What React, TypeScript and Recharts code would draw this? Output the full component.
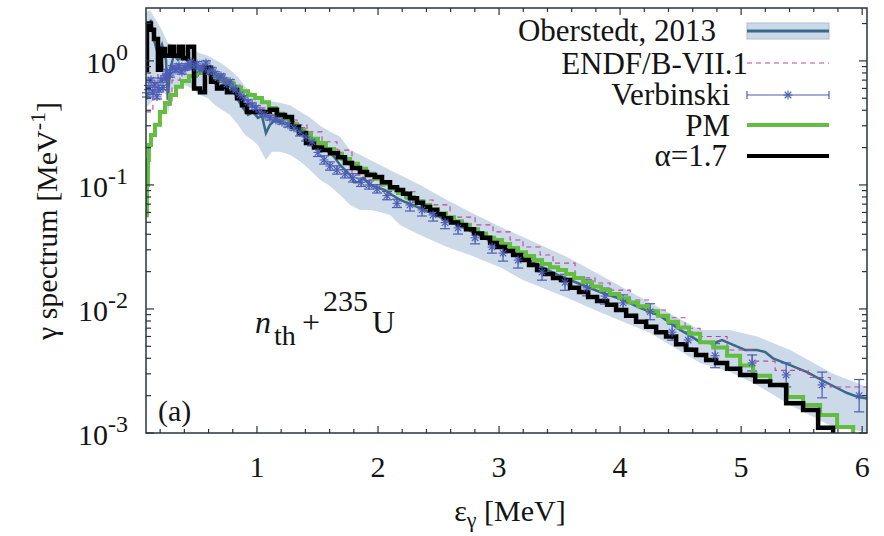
import React from 'react';
import { ComposedChart, Line, Area, Scatter, ErrorBar, XAxis, YAxis } from 'recharts';

const FONT = '"Liberation Serif", "Times New Roman", Times, serif';
const TEXT = '#141414';
const AXIS = '#26343f';
const BAND_C = '#cbd9e8';
const BAND_EDGE = '#a9bfd6';
const TEAL = '#3b6a89';
const ENDF_C = '#c2449a';
const VERB_C = '#4c5db3';
const PM_C = '#62bd40';
const ALPHA_C = '#000000';

const W = 884;
const H = 536;
const MARGIN = { top: 8, right: 17, bottom: 43, left: 46 };
const Y_AXIS_W = 100;
const X_AXIS_H = 60;
const PLOT_LEFT = MARGIN.left + Y_AXIS_W;
const PLOT_RIGHT = W - MARGIN.right;
const PLOT_TOP = MARGIN.top;
const PLOT_BOTTOM = H - MARGIN.bottom - X_AXIS_H;

const X_DOMAIN: [number, number] = [0.083, 6.04];
const Y_DOMAIN: [number, number] = [0.001, 2.67];

const X_MAJOR = [1, 2, 3, 4, 5, 6];
const X_TICK_LABELS = ['1', '2', '3', '4', '5', '6'];
const X_MINOR = [0.2, 0.4, 0.6, 0.8, 1.2, 1.4, 1.6, 1.8, 2.2, 2.4, 2.6, 2.8, 3.2, 3.4, 3.6, 3.8, 4.2, 4.4, 4.6, 4.8, 5.2, 5.4, 5.6, 5.8];
const Y_MAJOR = [0.001, 0.01, 0.1, 1];
const Y_TICK_EXP = ['-3', '-2', '-1', '0'];
const Y_MINOR = [0.002, 0.003, 0.004, 0.005, 0.006, 0.007, 0.008, 0.009, 0.02, 0.03, 0.04, 0.05, 0.06, 0.07, 0.08, 0.09, 0.2, 0.3, 0.4, 0.5, 0.6, 0.7, 0.8, 0.9, 2];

const LEGEND_LABELS = ['Oberstedt, 2013', 'ENDF/B-VII.1', 'Verbinski', 'PM', 'α=1.7'];

// Oberstedt 2013: [E, value]
const OBERSTEDT: [number, number][] = [
  [0.083, 1.02], [0.099, 1.78], [0.124, 2.14], [0.149, 1.48], [0.182, 1.12], [0.215, 1.35], [0.248, 1.02], [0.264, 0.484],
  [0.281, 0.845], [0.314, 1.12], [0.347, 1.02], [0.388, 1.12], [0.43, 0.98], [0.471, 0.845], [0.512, 0.77], [0.554, 0.929],
  [0.595, 0.815], [0.636, 0.7], [0.678, 0.61], [0.719, 0.64], [0.76, 0.56], [0.802, 0.583], [0.843, 0.484], [0.884, 0.418],
  [0.926, 0.367], [0.967, 0.388], [1.008, 0.347], [1.041, 0.36], [1.074, 0.262], [1.107, 0.305], [1.149, 0.334], [1.19, 0.322],
  [1.231, 0.353], [1.273, 0.334], [1.314, 0.316], [1.355, 0.278], [1.397, 0.24], [1.438, 0.218], [1.479, 0.21], [1.521, 0.197],
  [1.562, 0.191], [1.603, 0.183], [1.645, 0.165], [1.686, 0.145], [1.727, 0.132], [1.769, 0.12], [1.802, 0.105], [1.835, 0.105],
  [1.876, 0.114], [1.917, 0.105], [1.959, 0.098], [2.0, 0.095], [2.058, 0.091], [2.116, 0.083], [2.182, 0.0757], [2.347, 0.065],
  [2.512, 0.055], [2.678, 0.0467], [2.843, 0.039], [3.008, 0.0322], [3.174, 0.0267], [3.339, 0.0222], [3.504, 0.0184], [3.669, 0.0159],
  [3.835, 0.0137], [4.0, 0.0121], [4.165, 0.0102], [4.331, 0.0088], [4.496, 0.00678], [4.579, 0.0061], [4.661, 0.0054], [4.769, 0.0053],
  [4.843, 0.00562], [4.934, 0.00513], [5.033, 0.00467], [5.132, 0.00467], [5.198, 0.0045], [5.264, 0.004], [5.405, 0.00353], [5.545, 0.0031],
  [5.711, 0.00253], [5.876, 0.0021], [5.967, 0.00195], [6.04, 0.0019],
];

// Oberstedt uncertainty band: [E, low, high]
const OBERSTEDT_BAND: [number, number, number][] = [
  [0.083, 0.42, 2.48], [0.116, 0.45, 2.56], [0.157, 0.5, 2.2], [0.198, 0.6, 1.9], [0.248, 0.532, 1.5], [0.264, 0.367, 1.4],
  [0.298, 0.583, 1.35], [0.347, 0.64, 1.3], [0.405, 0.64, 1.28], [0.463, 0.6, 1.25], [0.529, 0.532, 1.15], [0.595, 0.5, 1.1],
  [0.653, 0.44, 1.02], [0.711, 0.403, 0.95], [0.777, 0.367, 0.85], [0.843, 0.305, 0.74], [0.901, 0.253, 0.62], [0.959, 0.231, 0.56],
  [1.008, 0.21, 0.52], [1.074, 0.159, 0.484], [1.124, 0.185, 0.47], [1.19, 0.185, 0.46], [1.273, 0.175, 0.44], [1.355, 0.155, 0.39],
  [1.438, 0.132, 0.35], [1.521, 0.11, 0.3], [1.603, 0.098, 0.27], [1.686, 0.083, 0.245], [1.769, 0.069, 0.191], [1.851, 0.0629, 0.175],
  [1.934, 0.0629, 0.159], [2.017, 0.0605, 0.145], [2.099, 0.0573, 0.132], [2.182, 0.0476, 0.12], [2.347, 0.0395, 0.1], [2.57, 0.0316, 0.0757],
  [2.76, 0.0272, 0.0605], [3.008, 0.0217, 0.046], [3.198, 0.0171, 0.0381], [3.562, 0.0123, 0.0262], [3.835, 0.0094, 0.0188], [4.248, 0.0064, 0.0112],
  [4.661, 0.00367, 0.00678], [4.909, 0.0031, 0.00678], [5.132, 0.00244, 0.006], [5.405, 0.00168, 0.00467], [5.76, 0.00112, 0.003], [6.04, 0.00102, 0.00235],
];

// ENDF/B-VII.1 histogram: [E bin start, value]
const ENDF: [number, number][] = [
  [0.083, 0.388], [0.14, 0.583], [0.182, 0.929], [0.223, 0.77], [0.264, 0.44], [0.298, 0.7], [0.364, 0.845], [0.488, 0.879],
  [0.612, 0.77], [0.736, 0.64], [0.86, 0.532], [0.983, 0.418], [1.107, 0.367], [1.231, 0.334], [1.331, 0.305], [1.413, 0.268],
  [1.537, 0.223], [1.661, 0.191], [1.785, 0.12], [1.893, 0.11], [2.017, 0.098], [2.14, 0.088], [2.306, 0.0757], [2.455, 0.069],
  [2.595, 0.055], [2.802, 0.0476], [2.95, 0.0418], [3.091, 0.036], [3.198, 0.0316], [3.339, 0.0272], [3.446, 0.0234], [3.628, 0.0178],
  [3.793, 0.0162], [3.917, 0.0142], [4.083, 0.0118], [4.248, 0.0098], [4.372, 0.0085], [4.537, 0.007], [4.661, 0.006], [4.884, 0.00467],
  [5.091, 0.0038], [5.281, 0.0032], [5.554, 0.0028], [5.736, 0.00235], [6.04, 0.00235],
];

// Verbinski: [E, value, relative uncertainty]
const VERBINSKI: [number, number, number][] = [
  [0.091, 0.532, 0.04], [0.107, 0.61, 0.04], [0.124, 0.7, 0.04], [0.14, 0.56, 0.04], [0.157, 0.64, 0.04], [0.174, 0.513, 0.04],
  [0.19, 0.583, 0.04], [0.207, 0.7, 0.04], [0.223, 0.61, 0.04], [0.24, 0.729, 0.04], [0.256, 0.815, 0.04], [0.281, 0.77, 0.04],
  [0.306, 0.879, 0.04], [0.331, 0.845, 0.04], [0.355, 0.91, 0.04], [0.38, 0.815, 0.04], [0.405, 0.879, 0.04], [0.43, 0.91, 0.04],
  [0.455, 0.98, 0.04], [0.479, 0.895, 0.04], [0.504, 0.946, 0.04], [0.529, 0.845, 0.04], [0.554, 0.879, 0.04], [0.579, 0.96, 0.04],
  [0.603, 0.815, 0.04], [0.628, 0.845, 0.04], [0.653, 0.785, 0.04], [0.678, 0.729, 0.04], [0.702, 0.755, 0.04], [0.727, 0.7, 0.04],
  [0.752, 0.653, 0.04], [0.777, 0.678, 0.04], [0.802, 0.61, 0.04], [0.826, 0.583, 0.04], [0.86, 0.532, 0.04], [0.893, 0.503, 0.04],
  [0.926, 0.465, 0.04], [0.959, 0.44, 0.04], [0.992, 0.418, 0.04], [1.025, 0.388, 0.04], [1.066, 0.367, 0.04], [1.107, 0.347, 0.04],
  [1.157, 0.334, 0.04], [1.207, 0.322, 0.04], [1.256, 0.305, 0.04], [1.306, 0.288, 0.04], [1.355, 0.268, 0.08], [1.405, 0.244, 0.08],
  [1.455, 0.223, 0.08], [1.504, 0.183, 0.08], [1.554, 0.159, 0.08], [1.603, 0.142, 0.08], [1.661, 0.132, 0.08], [1.727, 0.123, 0.08],
  [1.793, 0.114, 0.08], [1.86, 0.105, 0.08], [1.926, 0.1, 0.08], [1.992, 0.093, 0.08], [2.074, 0.082, 0.08], [2.157, 0.071, 0.08],
  [2.264, 0.069, 0.12], [2.364, 0.0629, 0.12], [2.455, 0.0573, 0.12], [2.554, 0.0497, 0.12], [2.661, 0.045, 0.12], [2.802, 0.0375, 0.12],
  [2.942, 0.0316, 0.12], [3.033, 0.0282, 0.16], [3.157, 0.0248, 0.16], [3.355, 0.0198, 0.16], [3.545, 0.0164, 0.16], [3.727, 0.0148, 0.16],
  [3.876, 0.0127, 0.16], [4.025, 0.0112, 0.16], [4.248, 0.0095, 0.16], [4.43, 0.0065, 0.16], [4.562, 0.00562, 0.16], [4.785, 0.0042, 0.25],
  [5.091, 0.00367, 0.16], [5.372, 0.00294, 0.25], [5.669, 0.00244, 0.27], [5.975, 0.002, 0.35],
];

// PM histogram: [E bin start, value]
const PM: [number, number][] = [
  [0.083, 0.057], [0.091, 0.1], [0.099, 0.159], [0.107, 0.21], [0.124, 0.253], [0.157, 0.305], [0.198, 0.388], [0.24, 0.458],
  [0.281, 0.532], [0.331, 0.62], [0.38, 0.69], [0.438, 0.755], [0.496, 0.8], [0.57, 0.815], [0.636, 0.755], [0.694, 0.7],
  [0.752, 0.653], [0.81, 0.61], [0.868, 0.57], [0.926, 0.532], [0.983, 0.503], [1.041, 0.465], [1.099, 0.418], [1.157, 0.375],
  [1.215, 0.34], [1.273, 0.31], [1.331, 0.278], [1.388, 0.258], [1.446, 0.236], [1.504, 0.218], [1.57, 0.195], [1.636, 0.178],
  [1.702, 0.162], [1.769, 0.148], [1.835, 0.135], [1.901, 0.123], [1.967, 0.112], [2.033, 0.102], [2.099, 0.093], [2.165, 0.086],
  [2.231, 0.08], [2.298, 0.074], [2.364, 0.069], [2.43, 0.064], [2.496, 0.059], [2.562, 0.055], [2.628, 0.051], [2.694, 0.0476],
  [2.76, 0.044], [2.826, 0.0405], [2.893, 0.0375], [2.959, 0.036], [3.025, 0.0334], [3.091, 0.031], [3.157, 0.0287], [3.223, 0.0267],
  [3.289, 0.0248], [3.355, 0.023], [3.421, 0.0217], [3.488, 0.0206], [3.554, 0.0191], [3.62, 0.0178], [3.694, 0.0164], [3.769, 0.0152],
  [3.843, 0.0142], [3.917, 0.0132], [3.992, 0.0122], [4.066, 0.0113], [4.149, 0.0105], [4.231, 0.0096], [4.314, 0.0088], [4.397, 0.0079],
  [4.479, 0.0071], [4.57, 0.0063], [4.661, 0.0054], [4.769, 0.0049], [4.884, 0.0042], [4.992, 0.0035], [5.099, 0.0029], [5.24, 0.00244],
  [5.38, 0.00195], [5.512, 0.00168], [5.653, 0.0014], [5.793, 0.00112], [5.926, 0.0008], [6.04, 0.0008],
];

// alpha = 1.7 histogram: [E bin start, value]
const ALPHA: [number, number][] = [
  [0.083, 0.85], [0.091, 2.0], [0.124, 1.78], [0.149, 1.5], [0.182, 0.85], [0.207, 1.25], [0.24, 1.1], [0.281, 1.3],
  [0.314, 1.1], [0.355, 1.3], [0.388, 1.05], [0.43, 1.3], [0.48, 0.6], [0.529, 0.56], [0.57, 0.88], [0.62, 0.68],
  [0.67, 0.6], [0.711, 0.62], [0.752, 0.56], [0.8, 0.58], [0.835, 0.5], [0.876, 0.44], [0.917, 0.388], [1.107, 0.403],
  [1.165, 0.367], [1.231, 0.353], [1.289, 0.294], [1.347, 0.262], [1.405, 0.218], [1.471, 0.2], [1.537, 0.191], [1.603, 0.18],
  [1.669, 0.167], [1.727, 0.15], [1.785, 0.137], [1.851, 0.127], [1.909, 0.12], [1.975, 0.116], [2.033, 0.105], [2.099, 0.096],
  [2.157, 0.091], [2.207, 0.085], [2.264, 0.078], [2.322, 0.072], [2.372, 0.0665], [2.43, 0.0629], [2.488, 0.058], [2.545, 0.054],
  [2.603, 0.0497], [2.661, 0.0476], [2.727, 0.044], [2.793, 0.0405], [2.86, 0.0375], [2.926, 0.034], [2.983, 0.0316], [3.05, 0.0293],
  [3.116, 0.0272], [3.182, 0.0248], [3.248, 0.0226], [3.314, 0.0206], [3.38, 0.0191], [3.446, 0.0178], [3.512, 0.0171], [3.587, 0.0148],
  [3.661, 0.0137], [3.736, 0.0125], [3.81, 0.0116], [3.893, 0.0108], [3.967, 0.0098], [4.05, 0.0088], [4.132, 0.0079], [4.215, 0.0072],
  [4.298, 0.0065], [4.38, 0.006], [4.463, 0.0052], [4.545, 0.0047], [4.628, 0.00426], [4.711, 0.00388], [4.793, 0.00367], [4.884, 0.0033],
  [4.992, 0.00294], [5.116, 0.0026], [5.24, 0.00244], [5.372, 0.00174], [5.512, 0.00153], [5.636, 0.0011], [5.76, 0.0008], [6.04, 0.0008],
];

const toPoints = (arr: [number, number][]) => arr.map(([E, v]) => ({ E, v }));
const oberstedtData = toPoints(OBERSTEDT);
const bandData = OBERSTEDT_BAND.map(([E, lo, hi]) => ({ E, range: [lo, hi] }));
const endfData = toPoints(ENDF);
const verbData = VERBINSKI.map(([E, v, rel]) => ({ E, v, err: [v - v / (1 + rel), v * rel] }));
const pmData = toPoints(PM);
const alphaData = toPoints(ALPHA);

const X_ALL = [...X_MAJOR, ...X_MINOR].sort((a, b) => a - b);
const Y_ALL = [...Y_MAJOR, ...Y_MINOR].sort((a, b) => a - b);

const XTick = (props: any) => {
  const { x, payload } = props;
  const i = X_MAJOR.indexOf(payload.value);
  const len = i >= 0 ? 7 : 4;
  return (
    <g>
      <line x1={x} x2={x} y1={PLOT_BOTTOM} y2={PLOT_BOTTOM - len} stroke={AXIS} strokeWidth={1.2} />
      <line x1={x} x2={x} y1={PLOT_TOP} y2={PLOT_TOP + len} stroke={AXIS} strokeWidth={1.2} />
      {i >= 0 && (
        <text x={x} y={PLOT_BOTTOM + 44} textAnchor="middle" fontFamily={FONT} fontSize={30} fill={TEXT}>
          {X_TICK_LABELS[i]}
        </text>
      )}
    </g>
  );
};

const YTick = (props: any) => {
  const { y, payload } = props;
  const i = Y_MAJOR.indexOf(payload.value);
  const len = i >= 0 ? 8 : 5;
  return (
    <g>
      <line x1={PLOT_LEFT} x2={PLOT_LEFT + len} y1={y} y2={y} stroke={AXIS} strokeWidth={1.2} />
      <line x1={PLOT_RIGHT} x2={PLOT_RIGHT - len} y1={y} y2={y} stroke={AXIS} strokeWidth={1.2} />
      {i >= 0 && (
        <text x={PLOT_LEFT - 18} y={y + 12} textAnchor="end" fontFamily={FONT} fontSize={30} fill={TEXT}>
          10
          <tspan dy={-13} fontSize={24}>{Y_TICK_EXP[i]}</tspan>
        </text>
      )}
    </g>
  );
};

const Asterisk = (props: any) => {
  const { cx, cy } = props;
  if (cx == null || cy == null) return null;
  const r = 4.5;
  const d = r * 0.72;
  return (
    <g stroke={VERB_C} strokeWidth={1.1}>
      <line x1={cx - r} y1={cy} x2={cx + r} y2={cy} />
      <line x1={cx} y1={cy - r} x2={cx} y2={cy + r} />
      <line x1={cx - d} y1={cy - d} x2={cx + d} y2={cy + d} />
      <line x1={cx - d} y1={cy + d} x2={cx + d} y2={cy - d} />
    </g>
  );
};

const LEG_X1 = 747;
const LEG_X2 = 829;
const LEG_TEXT_END = [716, 748, 730, 730, 727];
const LEG_BASE = [41, 74, 105, 136, 166];
const LEG_Y = [31, 63, 95, 125, 156];

const Overlay = () => (
  <svg width={W} height={H} style={{ position: 'absolute', left: 0, top: 0, pointerEvents: 'none' }}>
    <rect x={PLOT_LEFT} y={PLOT_TOP} width={PLOT_RIGHT - PLOT_LEFT} height={PLOT_BOTTOM - PLOT_TOP} fill="none" stroke={AXIS} strokeWidth={1.5} />
    <g fontFamily={FONT} fill={TEXT}>
      {LEGEND_LABELS.map((t, i) => (
        <text key={t} x={LEG_TEXT_END[i]} y={LEG_BASE[i]} textAnchor="end" fontSize={31}>{t}</text>
      ))}
    </g>
    <rect x={LEG_X1} y={LEG_Y[0] - 8} width={LEG_X2 - LEG_X1} height={16} fill={BAND_C} stroke={BAND_EDGE} strokeWidth={1} />
    <line x1={LEG_X1} x2={LEG_X2} y1={LEG_Y[0]} y2={LEG_Y[0]} stroke={TEAL} strokeWidth={3} />
    <line x1={LEG_X1} x2={LEG_X2} y1={LEG_Y[1]} y2={LEG_Y[1]} stroke={ENDF_C} strokeWidth={1.1} strokeDasharray="5 4" />
    <line x1={LEG_X1} x2={LEG_X2} y1={LEG_Y[2]} y2={LEG_Y[2]} stroke={VERB_C} strokeWidth={1.2} />
    <line x1={LEG_X1} x2={LEG_X1} y1={LEG_Y[2] - 4} y2={LEG_Y[2] + 4} stroke={VERB_C} strokeWidth={1.2} />
    <line x1={LEG_X2} x2={LEG_X2} y1={LEG_Y[2] - 4} y2={LEG_Y[2] + 4} stroke={VERB_C} strokeWidth={1.2} />
    <Asterisk cx={(LEG_X1 + LEG_X2) / 2} cy={LEG_Y[2]} />
    <line x1={LEG_X1} x2={LEG_X2} y1={LEG_Y[3]} y2={LEG_Y[3]} stroke={PM_C} strokeWidth={4} />
    <line x1={LEG_X1} x2={LEG_X2} y1={LEG_Y[4]} y2={LEG_Y[4]} stroke={ALPHA_C} strokeWidth={4} />

    <g fontFamily={FONT} fill={TEXT}>
      <text x={57} y={221} textAnchor="middle" fontSize={30} transform="rotate(-90 57 221)">
        γ spectrum [MeV<tspan dy={-12} fontSize={22}>-1</tspan><tspan dy={12}>]</tspan>
      </text>
      <text x={510} y={521} textAnchor="middle" fontSize={30}>
        ε<tspan dy={6} fontSize={22}>γ</tspan><tspan dy={-6}> [MeV]</tspan>
      </text>
      <text x={158} y={421} fontSize={30}>(a)</text>
      <text fontSize={32}>
        <tspan x={255} y={333} fontStyle="italic">n</tspan>
        <tspan x={274} y={345} fontSize={28}>th</tspan>
        <tspan x={302} y={333}>+</tspan>
        <tspan x={323} y={311} fontSize={30}>235</tspan>
        <tspan x={372} y={333}>U</tspan>
      </text>
    </g>
  </svg>
);

export default function App() {
  return (
    <div style={{ position: 'absolute', left: 0, top: 0, width: W, height: H, background: '#ffffff' }}>
      <ComposedChart width={W} height={H} margin={MARGIN}>
        <XAxis
          type="number"
          dataKey="E"
          domain={X_DOMAIN}
          allowDataOverflow
          ticks={X_ALL}
          interval={0}
          tickLine={false}
          axisLine={false}
          tick={<XTick />}
          height={X_AXIS_H}
        />
        <YAxis
          type="number"
          scale="log"
          domain={Y_DOMAIN}
          allowDataOverflow
          ticks={Y_ALL}
          interval={0}
          tickLine={false}
          axisLine={false}
          tick={<YTick />}
          width={Y_AXIS_W}
        />
        <Area
          data={bandData}
          dataKey="range"
          type="linear"
          stroke="none"
          fill={BAND_C}
          fillOpacity={1}
          isAnimationActive={false}
          activeDot={false}
        />
        <Line data={oberstedtData} dataKey="v" type="linear" stroke={TEAL} strokeWidth={2.5} dot={false} activeDot={false} isAnimationActive={false} />
        <Line data={endfData} dataKey="v" type="stepAfter" stroke={ENDF_C} strokeWidth={1.1} strokeDasharray="5 4" dot={false} activeDot={false} isAnimationActive={false} />
        <Scatter data={verbData} dataKey="v" shape={(p: any) => <Asterisk {...p} />} isAnimationActive={false}>
          <ErrorBar dataKey="err" direction="y" width={5} stroke={VERB_C} strokeWidth={1.2} />
        </Scatter>
        <Line data={pmData} dataKey="v" type="stepAfter" stroke={PM_C} strokeWidth={4} dot={false} activeDot={false} isAnimationActive={false} />
        <Line data={alphaData} dataKey="v" type="stepAfter" stroke={ALPHA_C} strokeWidth={4.5} dot={false} activeDot={false} isAnimationActive={false} />
      </ComposedChart>
      <Overlay />
    </div>
  );
}
